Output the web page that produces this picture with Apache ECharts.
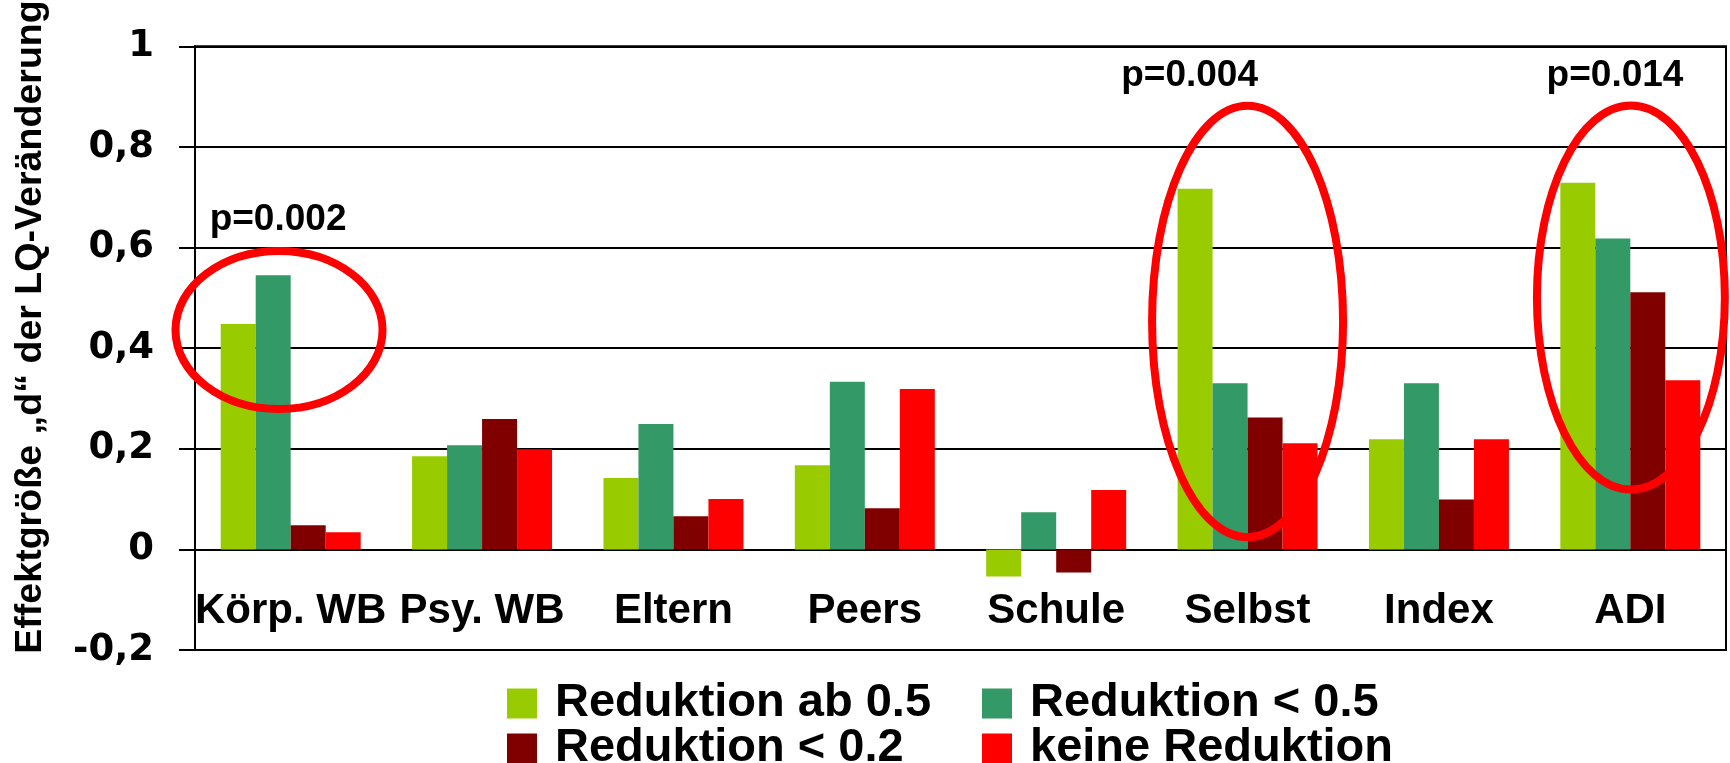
<!DOCTYPE html>
<html><head><meta charset="utf-8">
<script src="https://cdn.jsdelivr.net/npm/echarts@6/dist/echarts.min.js"></script>
<style>html,body{margin:0;padding:0;background:#fff}#c{width:1730px;height:763px}</style>
</head><body><div id="c"></div>
<script>
// ---- data ----
const categories = ['Körp. WB', 'Psy. WB', 'Eltern', 'Peers', 'Schule', 'Selbst', 'Index', 'ADI'];
const seriesNames = ['Reduktion ab 0.5', 'Reduktion < 0.5', 'Reduktion < 0.2', 'keine Reduktion'];
const reduktionAb05 = [0.448, 0.185, 0.142, 0.167, -0.054, 0.717, 0.219, 0.729];
const reduktionLt05 = [0.545, 0.207, 0.249, 0.333, 0.074, 0.330, 0.330, 0.618];
const reduktionLt02 = [0.048, 0.259, 0.066, 0.082, -0.046, 0.262, 0.099, 0.511];
const keineReduktion = [0.034, 0.199, 0.100, 0.319, 0.118, 0.211, 0.219, 0.336];
const yTicks = [-0.2, 0, 0.2, 0.4, 0.6, 0.8, 1];
const pLabels = ['p=0.002', 'p=0.004', 'p=0.014'];
const pCategoryIndex = [0, 5, 7];
const yTitle = 'Effektgröße „d“ der LQ-Veränderung';

// ---- styles ----
const colors = ['#99CC00', '#339966', '#800000', '#FF0000'];
const FONT = '"Liberation Sans", Arial, sans-serif';
const seriesData = [reduktionAb05, reduktionLt05, reduktionLt02, keineReduktion];
// legend slot (left px, top px) for each series
const legendSlots = [[507, 680], [982, 680], [507, 725], [982, 725]];

const chart = echarts.init(document.getElementById('c'), null, {renderer: 'canvas'});

const option = {
  animation: false,
  backgroundColor: '#fff',
  grid: {left: 195, right: 4, top: 46.3, bottom: 113, show: true, borderColor: '#000', borderWidth: 2, backgroundColor: 'transparent'},
  legend: seriesNames.map((name, i) => ({
    left: legendSlots[i][0], top: legendSlots[i][1], padding: 0,
    data: [name], itemWidth: 30, itemHeight: 30, icon: 'rect', selectedMode: false,
    textStyle: {fontFamily: FONT, fontWeight: 'bold', fontSize: 47, color: '#000', lineHeight: 44, padding: [0, 0, 0, 13]}
  })),
  xAxis: {
    type: 'category', data: categories,
    axisLine: {onZero: false, lineStyle: {color: '#000', width: 2}},
    axisTick: {show: false},
    axisLabel: {margin: 41, fontFamily: FONT, fontWeight: 'bold', fontSize: 42, color: '#000', interval: 0}
  },
  yAxis: {
    type: 'value', min: yTicks[0], max: yTicks[yTicks.length - 1], interval: yTicks[1] - yTicks[0],
    axisLine: {show: true, lineStyle: {color: '#000', width: 2}},
    axisTick: {show: true, length: 16, lineStyle: {color: '#000', width: 2}},
    splitLine: {show: true, lineStyle: {color: '#000', width: 2}},
    axisLabel: {
      margin: 41, fontFamily: '"DejaVu Sans", sans-serif', fontWeight: 'bold', fontSize: 37, color: '#000',
      formatter: v => String(+(+v).toFixed(1)).replace('.', ',')
    }
  },
  series: seriesNames.map((name, i) => ({
    name, type: 'bar', data: seriesData[i], barWidth: 35, barGap: '0%',
    itemStyle: {color: colors[i]}
  }))
};
chart.setOption(option);

// move the category axis (line + labels) up to the zero line using the value scale
const yZero = chart.convertToPixel({yAxisIndex: 0}, 0);
const yBottom = chart.convertToPixel({yAxisIndex: 0}, yTicks[0]);
chart.setOption({xAxis: {offset: -(yBottom - yZero)}});

// ---- annotations positioned through the chart's own scales ----
const catW = chart.convertToPixel({xAxisIndex: 0}, 1) - chart.convertToPixel({xAxisIndex: 0}, 0);
const ellipseSpec = [
  {dx: -0.061, v: 0.436, rx: 0.541, ry: 79},
  {dx: 0.0, v: 0.453, rx: 0.499, ry: 215.7},
  {dx: 0.003, v: 0.5006, rx: 0.491, ry: 192}
];
const labelSpec = [
  {dx: -0.066, v: 0.655},
  {dx: -0.303, v: 0.942},
  {dx: -0.080, v: 0.942}
];
const graphics = [];
pCategoryIndex.forEach((ci, k) => {
  const e = ellipseSpec[k];
  const c = chart.convertToPixel({gridIndex: 0}, [ci, e.v]);
  graphics.push({
    type: 'ellipse', z: 100,
    shape: {cx: c[0] + e.dx * catW, cy: c[1], rx: e.rx * catW, ry: e.ry},
    style: {fill: 'none', stroke: '#FF0000', lineWidth: 8}
  });
  const l = labelSpec[k];
  const p = chart.convertToPixel({gridIndex: 0}, [ci, l.v]);
  graphics.push({
    type: 'text', z: 100, x: p[0] + l.dx * catW, y: p[1],
    style: {text: pLabels[k], fontFamily: FONT, fontWeight: 'bold', fontSize: 37, fill: '#000', align: 'center', verticalAlign: 'middle'}
  });
});
graphics.push({
  type: 'text', z: 100, x: 31, y: 327, rotation: Math.PI / 2,
  style: {text: yTitle, fontFamily: FONT, fontWeight: 'bold', fontSize: 37.6, fill: '#000', align: 'center', verticalAlign: 'middle'}
});
chart.setOption({graphic: graphics});
</script>
</body></html>
